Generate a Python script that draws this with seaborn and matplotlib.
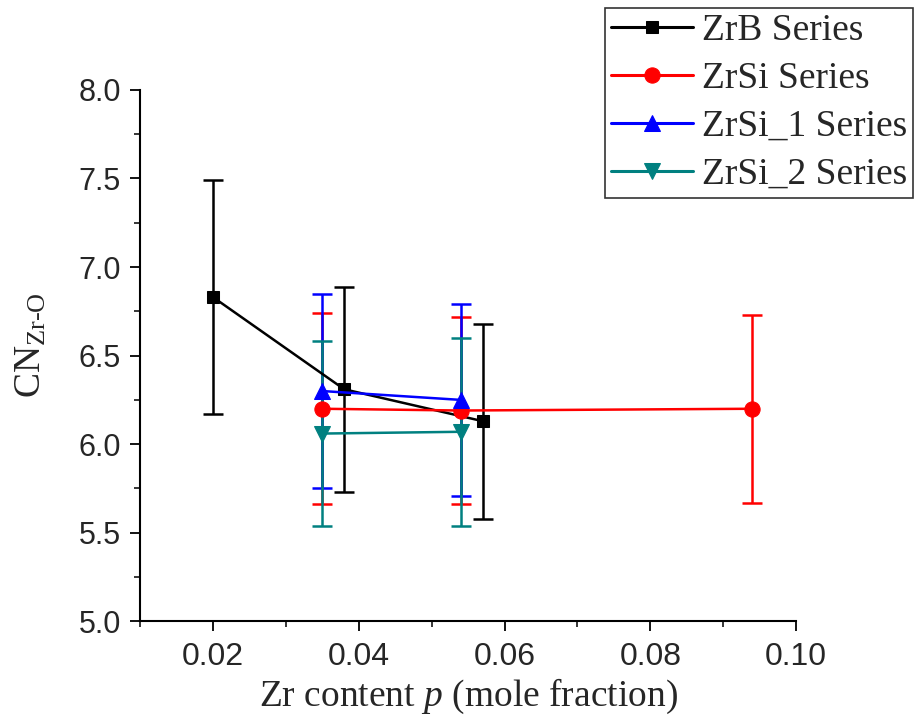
import numpy as np
import pandas as pd
import matplotlib
matplotlib.use('Agg')
import matplotlib.pyplot as plt
from matplotlib.ticker import MultipleLocator
import seaborn as sns

#------------------------------------------------
f_out='out.png'

#data
x_zrb=[0.020, 0.038, 0.057]
y_zrb=[6.83, 6.31, 6.13]
e_zrb=[0.66, 0.58, 0.55]

x_zrsi=[0.035, 0.054, 0.094]
y_zrsi=[6.20, 6.19, 6.20]
e_zrsi=[0.54, 0.53, 0.53]

x_zrsi1=[0.035, 0.054]
y_zrsi1=[6.30, 6.25]
e_zrsi1=[0.55, 0.54]

x_zrsi2=[0.035, 0.054]
y_zrsi2=[6.06, 6.07]
e_zrsi2=[0.52, 0.53]

series=['ZrB Series', 'ZrSi Series', 'ZrSi_1 Series', 'ZrSi_2 Series']
colors=['#000000', '#ff0000', '#0000ff', '#008080']
markers=['s', 'o', '^', 'v']
msizes=[9, 11, 12, 12]

xticks=[0.02, 0.04, 0.06, 0.08, 0.10]
xticklabels=['0.02', '0.04', '0.06', '0.08', '0.10']

#########################################################
sns.set_style('ticks')
plt.rcParams['font.family']=['Liberation Sans', 'DejaVu Sans']
plt.rcParams['mathtext.fontset']='custom'
plt.rcParams['mathtext.rm']='Liberation Serif'
plt.rcParams['mathtext.it']='Liberation Serif:italic'

df=pd.concat([
    pd.DataFrame({'x': x_zrb, 'y': y_zrb, 'err': e_zrb, 'series': series[0]}),
    pd.DataFrame({'x': x_zrsi, 'y': y_zrsi, 'err': e_zrsi, 'series': series[1]}),
    pd.DataFrame({'x': x_zrsi1, 'y': y_zrsi1, 'err': e_zrsi1, 'series': series[2]}),
    pd.DataFrame({'x': x_zrsi2, 'y': y_zrsi2, 'err': e_zrsi2, 'series': series[3]}),
], ignore_index=True)

fig=plt.figure(figsize=(9.16, 7.25), dpi=100)
ax=fig.add_axes([0.153, 0.143, 0.716, 0.733])

#plot
for s, c, m, ms in zip(series, colors, markers, msizes):
    d=df[df['series']==s]
    ax.errorbar(d['x'], d['y'], yerr=d['err'], fmt='none', ecolor=c,
                elinewidth=1.8, capsize=7, capthick=1.8, zorder=2)
    sns.lineplot(data=d, x='x', y='y', color=c, marker=m, markersize=ms,
                 markeredgecolor=c, linewidth=1.8, label=s, ax=ax,
                 estimator=None, sort=True, zorder=3)

#adjust
ax.set_xlim(0.01, 0.10)
ax.set_ylim(5.0, 8.0)
ax.set_xticks(xticks)
ax.set_xticklabels(xticklabels)
ax.xaxis.set_minor_locator(MultipleLocator(0.01))
ax.yaxis.set_major_locator(MultipleLocator(0.5))
ax.yaxis.set_minor_locator(MultipleLocator(0.25))
ax.tick_params(axis='y', which='major', labelsize=22, length=7, width=1.3,
               direction='out', color='black', pad=7)
ax.tick_params(axis='x', which='major', labelsize=23, length=7, width=1.3,
               direction='out', color='black', pad=8)
ax.tick_params(axis='both', which='minor', length=4, width=1.3, direction='out')
for sp in ['left', 'bottom']:
    ax.spines[sp].set_linewidth(1.5)
    ax.spines[sp].set_color('black')
sns.despine(ax=ax)

ax.set_xlabel('Zr content $\\mathit{p}$ (mole fraction)', fontsize=27,
              family='Liberation Serif', labelpad=3)
ax.set_ylabel('CN$_{\\mathrm{Zr\\text{-}O}}$', fontsize=27,
              family='Liberation Serif')
ax.yaxis.set_label_coords(-0.14, 0.52)

leg=ax.legend(loc='upper right', bbox_to_anchor=(0.997, 0.989),
              bbox_transform=fig.transFigure, frameon=True, fancybox=False,
              prop={'family': 'Liberation Serif', 'size': 27},
              handlelength=2.2, borderpad=0.15, labelspacing=0.36,
              handletextpad=0.25, borderaxespad=0)
leg.get_frame().set_edgecolor('black')
leg.get_frame().set_linewidth(1.2)
for ln in leg.get_lines():
    ln.set_linewidth(2.2)

#save
plt.savefig(f_out, dpi=100)
plt.close()
